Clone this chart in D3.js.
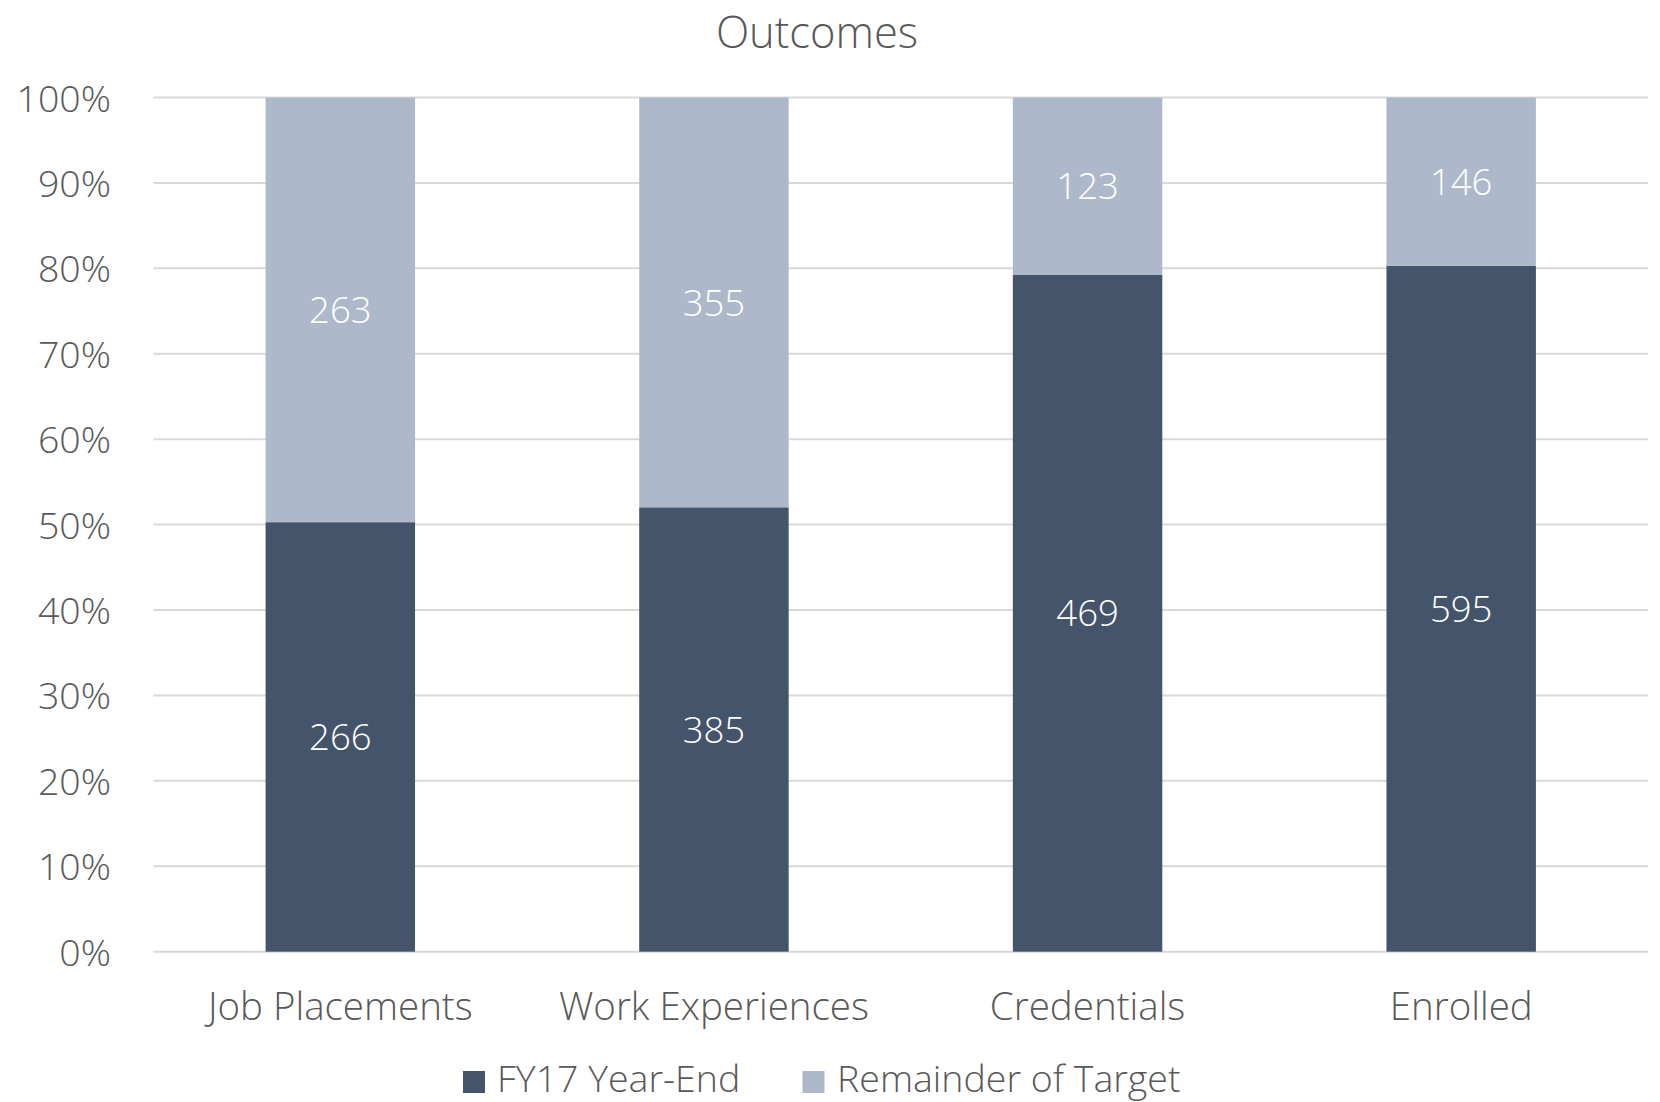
<!DOCTYPE html>
<html>
<head>
<meta charset="utf-8">
<script src="https://cdn.jsdelivr.net/npm/d3@7"></script>
<style>
  html, body { margin: 0; padding: 0; background: #fff; }
  svg { display: block; font-family: "Open Sans", sans-serif; font-weight: 300; }
</style>
</head>
<body>
<svg id="chart" width="1660" height="1102"></svg>
<script>
const categories = ["Job Placements", "Work Experiences", "Credentials", "Enrolled"];
const seriesNames = ["FY17 Year-End", "Remainder of Target"];
const yearEnd = [266, 385, 469, 595];
const remainder = [263, 355, 123, 146];
const yTicks = [0, 0.1, 0.2, 0.3, 0.4, 0.5, 0.6, 0.7, 0.8, 0.9, 1.0];
const colors = ["#44546A", "#ADB9CA"];

const svg = d3.select("#chart");
const W = 1660, H = 1102;
const margin = { left: 153.5, right: 12, top: 97.5, bottom: 150 };
const x0 = margin.left, x1 = W - margin.right;
const yTop = margin.top, yBot = 951.7;

const x = d3.scaleBand().domain(categories).range([x0, x1]).paddingInner(0.6).paddingOuter(0.3);
const y = d3.scaleLinear().domain([0, 1]).range([yBot, yTop]);

const rows = categories.map((c, i) => {
  const total = yearEnd[i] + remainder[i];
  return { cat: c, vals: [yearEnd[i], remainder[i]], total };
});
const stack = d3.stack().keys([0, 1]).value((d, k) => d.vals[k] / d.total);
const layers = stack(rows);

// gridlines
svg.append("g").selectAll("line").data(yTicks).join("line")
  .attr("x1", x0).attr("x2", x1)
  .attr("y1", d => y(d)).attr("y2", d => y(d))
  .attr("stroke", "#D9D9D9").attr("stroke-width", 2);

// y axis labels
const yAxis = d3.axisLeft(y).tickValues(yTicks).tickFormat(d3.format(".0%")).tickSize(0).tickPadding(0);
const gy = svg.append("g").attr("transform", `translate(${111},0)`).call(yAxis);
gy.select(".domain").remove();
gy.selectAll("text").attr("fill", "#595959").style("font-size", "37.5px").attr("dy", "0.36em")
  .style("font-family", "'Open Sans', sans-serif").style("font-weight", 300);

// bars
const lg = svg.append("g").selectAll("g").data(layers).join("g").attr("fill", (d, i) => colors[i]);
lg.selectAll("rect").data(d => d).join("rect")
  .attr("x", d => x(d.data.cat))
  .attr("width", x.bandwidth())
  .attr("y", d => y(d[1]))
  .attr("height", d => y(d[0]) - y(d[1]));

// data labels
layers.forEach((layer, k) => {
  svg.append("g").selectAll("text").data(layer).join("text")
    .attr("x", d => x(d.data.cat) + x.bandwidth() / 2)
    .attr("y", d => (y(d[0]) + y(d[1])) / 2)
    .attr("dy", "0.36em")
    .attr("text-anchor", "middle")
    .attr("fill", "#FFFFFF")
    .style("font-size", "36.5px")
    .text(d => d.data.vals[k]);
});

// x axis labels
const xAxis = d3.axisBottom(x).tickSize(0).tickPadding(0);
const gx = svg.append("g").attr("transform", `translate(0,${yBot})`).call(xAxis);
gx.select(".domain").remove();
gx.selectAll("text").attr("fill", "#595959").style("font-size", "38.5px")
  .attr("y", 0).attr("dy", "68px")
  .style("font-family", "'Open Sans', sans-serif").style("font-weight", 300);

// title
svg.append("text").attr("x", 817).attr("y", 47.5).attr("text-anchor", "middle")
  .attr("fill", "#595959").style("font-size", "43.5px").text("Outcomes");

// legend
const legendItems = [
  { name: seriesNames[0], color: colors[0], sx: 463, tx: 497 },
  { name: seriesNames[1], color: colors[1], sx: 802.5, tx: 837 }
];
const leg = svg.append("g");
legendItems.forEach(it => {
  leg.append("rect").attr("x", it.sx).attr("y", 1071).attr("width", 22).attr("height", 22).attr("fill", it.color);
  leg.append("text").attr("x", it.tx).attr("y", 1092).attr("fill", "#595959")
    .style("font-size", "37.5px").text(it.name);
});
</script>
</body>
</html>
